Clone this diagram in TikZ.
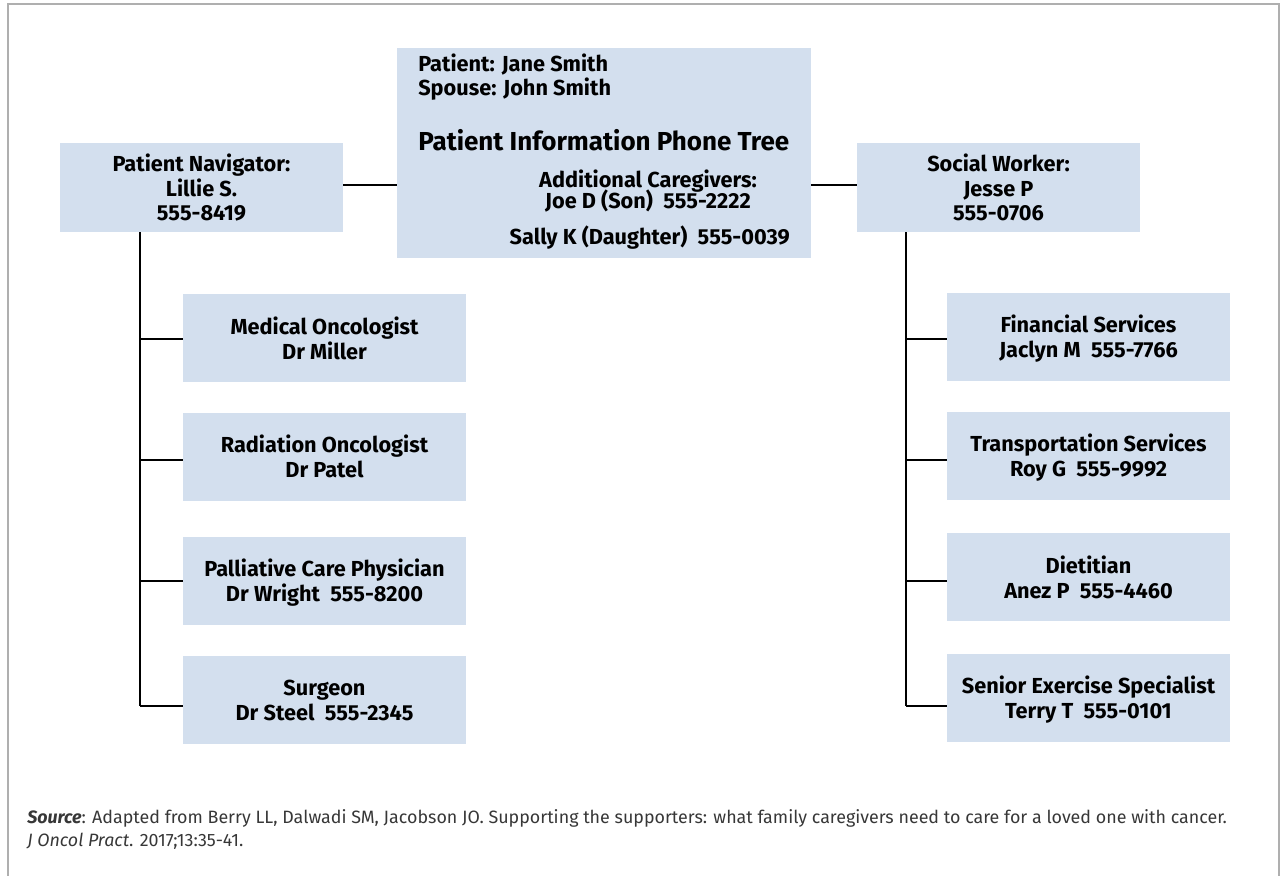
\documentclass[tikz,border=0pt]{standalone}
\usepackage{fontspec}
\setmainfont{Fira Sans}
\definecolor{boxfill}{RGB}{211,223,238}
\definecolor{framegray}{RGB}{175,175,175}
\definecolor{srctext}{RGB}{55,55,55}
\begin{document}
\begin{tikzpicture}[x=0.75pt,y=-0.75pt,
  card/.style={fill=boxfill, draw=none, inner sep=0pt, align=center, text=black,
    font=\bfseries\fontsize{16.3}{18.6}\selectfont},
  sidecard/.style={card, minimum width=212.25pt, minimum height=66.75pt},
  child/.style={card, minimum width=212.25pt, minimum height=66pt,
    text height=31.5pt, text depth=0pt},
  hubtext/.style={inner sep=0pt, text=black, font=\bfseries\fontsize{16.3}{18.6}\selectfont},
  link/.style={line width=2.2pt, black},
  source/.style={inner sep=0pt, anchor=base west, text=srctext, font=\fontsize{13.4}{16}\selectfont}
]
\useasboundingbox (0,0) rectangle (1282,875);
% outer frame, open at the bottom
\draw[framegray, line width=1.5pt] (8,880) -- (8,4) -- (1279,4) -- (1279,880);

% central box
\node[card, minimum width=310.5pt, minimum height=157.5pt] (hub) at (604,153) {};
\node[hubtext, anchor=base west] (patient) at (418,71) {Patient: Jane Smith};
\node[hubtext, anchor=base west] (spouse) at (418,95) {Spouse: John Smith};
\node[hubtext, anchor=base west, font=\bfseries\fontsize{19.5}{22}\selectfont] (title) at (418,150) {Patient Information Phone Tree};
\node[hubtext, anchor=base] (addl) at (648,187) {Additional Caregivers:};
\node[hubtext, anchor=base] (joe) at (648,208) {Joe D (Son)\ \ 555-2222};
\node[hubtext, anchor=base east] (sally) at (790,244) {Sally K (Daughter)\ \ 555-0039};

% first level
\node[sidecard] (nav) at (201.5,187.5) {Patient Navigator:\\Lillie S.\\555-8419};
\node[sidecard] (social) at (998.5,187.5) {Social Worker:\\Jesse P\\555-0706};

% left branch
\node[child] (med) at (324.5,338) {Medical Oncologist\\Dr Miller};
\node[child] (rad) at (324.5,456.5) {Radiation Oncologist\\Dr Patel};
\node[child] (pal) at (324.5,580.5) {Palliative Care Physician\\Dr Wright\ \ 555-8200};
\node[child] (surg) at (324.5,699.5) {Surgeon\\Dr Steel\ \ 555-2345};

% right branch
\node[child] (fin) at (1088.5,336.5) {Financial Services\\Jaclyn M\ \ 555-7766};
\node[child] (trans) at (1088.5,455.5) {Transportation Services\\Roy G\ \ 555-9992};
\node[child] (diet) at (1088.5,577) {Dietitian\\Anez P\ \ 555-4460};
\node[child] (exer) at (1088.5,697.5) {Senior Exercise Specialist\\Terry T\ \ 555-0101};

% connectors
\draw[link] (nav.east |- 0,185) -- (hub.west |- 0,185);
\draw[link] (social.west |- 0,185) -- (hub.east |- 0,185);

\coordinate (ltrunk) at (140,706);
\coordinate (rtrunk) at (906,706);
\draw[link] (nav.south -| ltrunk) -- (ltrunk);
\draw[link] (140,339) -- (med.west |- 0,339);
\draw[link] (140,460) -- (rad.west |- 0,460);
\draw[link] (140,581) -- (pal.west |- 0,581);
\draw[link] (ltrunk) -- (surg.west |- ltrunk);

\draw[link] (social.south -| rtrunk) -- (rtrunk);
\draw[link] (906,339) -- (fin.west |- 0,339);
\draw[link] (906,460) -- (trans.west |- 0,460);
\draw[link] (906,581) -- (diet.west |- 0,581);
\draw[link] (rtrunk) -- (exer.west |- rtrunk);

% citation
\node[source] (src1) at (27,823) {\textbf{\textit{Source}}: Adapted from Berry LL, Dalwadi SM, Jacobson JO. Supporting the supporters: what family caregivers need to care for a loved one with cancer.};
\node[source] (src2) at (27,846) {\textit{J Oncol Pract}. 2017;13:35-41.};
\end{tikzpicture}
\end{document}
